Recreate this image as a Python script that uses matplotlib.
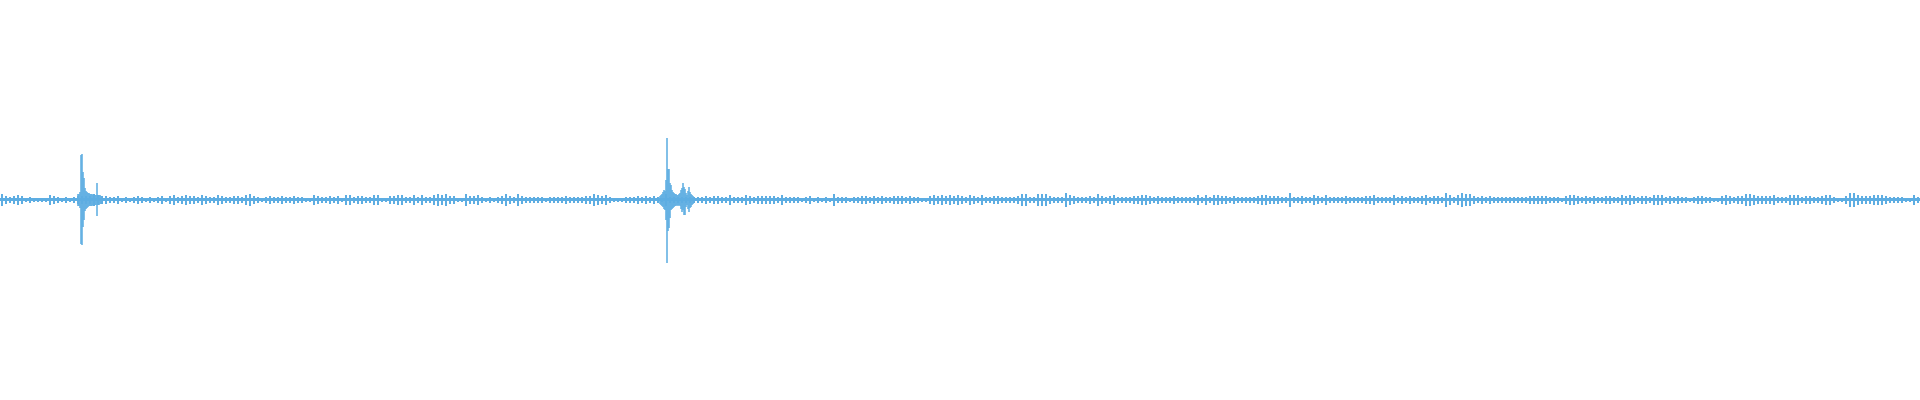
import numpy as np
import matplotlib
matplotlib.use('Agg')
import matplotlib.pyplot as plt

######################################################################
######### Data (amplitudes in pixels)
######################################################################
wave_color = '#5DADE2'
cell = 4          # one amplitude value per 4 samples
floor = 1.5       # the constant noise band

# peak amplitude per block, one row per 320 samples
noise_rows = [
    "64345423222254323234444654433423234323234245345443543354334435643234334334332254",
    "33434255344335522445533535335656442264453232346436433333233334333344654532223334",
    "34343263333333334344335333543444443533332342323263332334434343344434332245454545",
    "43543533443333466336664333754333436434533334455434333433333535355443433333455444",
    "33733433543533334333344533335343433453443753576643434333333333444443332455434343",
    "34433545434435553434332344332245434466544445333555344334553224775444555433332253",
]
noise = [int(c) for row in noise_rows for c in row]

# the two large events, sample by sample
event_x = list(range(78, 103)) + list(range(660, 694))
event_top = [6, 6, 8, 44.5, 45.5, 27.5, 22, 12, 9, 8, 7, 7, 6, 6, 6, 5, 6, 5, 5, 17, 5, 5, 5, 4, 4,
             4, 5, 6, 8, 10, 9, 20, 62, 31, 31, 17, 15, 10, 8, 7, 6, 6, 5, 5, 6, 7, 10, 12, 16.5, 13,
             11, 7, 5, 9, 12.5, 8, 6, 5, 4]
event_bottom = [6, 6, 8, 44.5, 45, 27, 20, 11, 9, 8, 7, 6, 6, 6, 6, 5, 5, 5, 5, 16.5, 5, 5, 4, 4, 4,
                4, 5, 6, 7.5, 9, 10, 20.5, 62.8, 31, 28, 18, 10, 9, 8, 7, 6, 6, 5, 6, 5, 6, 9, 12, 10, 15,
                15, 7, 5, 9, 12.5, 8, 7, 5, 4]

######################################################################
fig = plt.figure(figsize=(19.2, 4), dpi=100)
ax = fig.add_axes([0, 0, 1, 1])

n = len(noise) * cell
ax.fill_between([0, n], -floor, floor, color=wave_color, linewidth=0)

xs = np.arange(len(noise)) * cell + cell / 2
amp = np.array(noise, dtype=float)
ax.bar(xs, 2 * amp, bottom=-amp, width=2, color=wave_color, linewidth=0)

ax.vlines(event_x, -np.array(event_bottom), np.array(event_top),
          color=wave_color, linewidth=1.1)

ax.set_xlim(0, n)
ax.set_ylim(-200.3, 199.7)
ax.axis('off')

plt.savefig('out.png', dpi=100, facecolor='white')
